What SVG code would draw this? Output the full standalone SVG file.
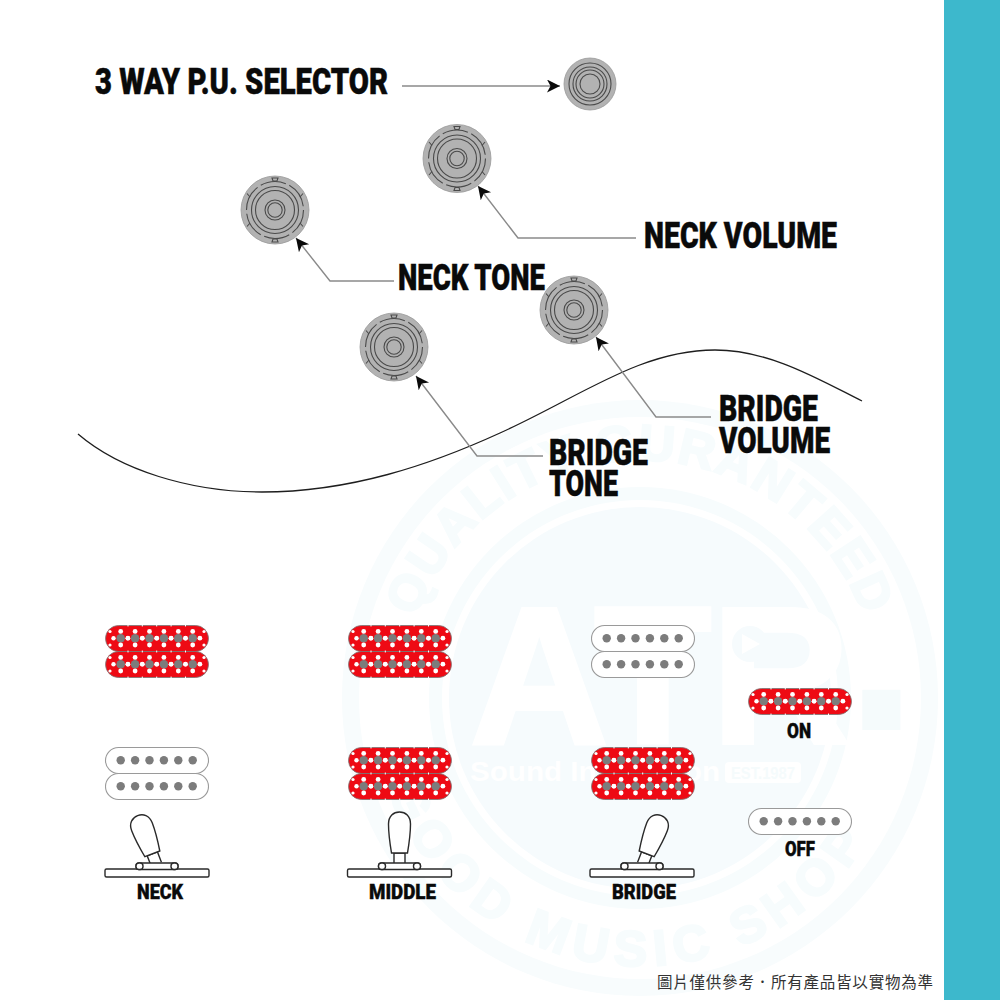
<svg xmlns="http://www.w3.org/2000/svg" width="1000" height="1000" viewBox="0 0 1000 1000">
<style>
.lbl{font-family:Roboto,"Liberation Sans",Arial,sans-serif;font-weight:900;fill:#0a0a0a;stroke:#0a0a0a;stroke-width:.5}
.big{font-size:36px}
.sm{font-size:21px;stroke-width:.4}
.ln{fill:none;stroke:#8a8a8a;stroke-width:1.4}
.wm{font-family:"Liberation Sans",Arial,sans-serif;font-weight:700}
.kn{fill:none;stroke:#4a4a4a;stroke-width:1.1}
.pl{fill:#fff;stroke:#2a2a2a;stroke-width:1.4}
.wh{fill:#fff;stroke:#9a9a9a;stroke-width:1.1}
.rd{fill:#ee0a14;stroke:#777;stroke-width:.8}
.pg{fill:#7c7c7c}
.wd{fill:#fff}
.rt{font-family:"Liberation Sans",Arial,sans-serif;font-weight:700;fill:#f7fcfd;stroke:#f7fcfd;stroke-width:2.5}
</style>
<defs>
<marker id="ah" markerUnits="userSpaceOnUse" markerWidth="16" markerHeight="14" refX="13" refY="6.500" orient="auto"><path d="M0 0L13 6.500L0 13L3.500 6.500Z" fill="#0a0a0a"/></marker>
<path id="arcT" d="M402 698A238 238 0 0 1 878 698"/>
<path id="arcB" d="M372 698A268 268 0 0 0 908 698"/>
<g id="knob">
<circle r="34" fill="#b2b2b2" stroke="#999" stroke-width=".8"/>
<circle class="kn" r="28.500" stroke-dasharray="26 3.800"/>
<circle class="kn" r="23.500"/>
<circle class="kn" r="19.500"/>
<circle class="kn" r="10"/>
<circle class="kn" r="7.200"/>
<path class="kn" d="M-3 -32L3 -32L2 -29H-2ZM-3 32L3 32L2 29H-2ZM-28 -16.500L-25 -13M28 -16.500L25 -13M-28 16.500L-25 13M28 16.500L25 13" stroke-width=".8"/>
</g>
<g id="cell"><circle class="pg" r="4.300"/><circle class="wd" cy="-6.800" r="2.400"/><circle class="wd" cy="6.800" r="2.400"/><circle class="wd" cx="7.200" r="2.400"/><circle class="wd" cx="-7.200" r="2.200"/></g>
<g id="redcoil">
<rect class="rd" x=".5" y=".5" width="103" height="26" rx="13"/>
<use href="#cell" x="15.700" y="13.200"/><use href="#cell" x="30.100" y="13.200"/><use href="#cell" x="44.500" y="13.200"/><use href="#cell" x="58.900" y="13.200"/><use href="#cell" x="73.300" y="13.200"/><use href="#cell" x="87.700" y="13.200"/>
<circle class="wd" cx="5" cy="6.500" r="1.600"/><circle class="wd" cx="5" cy="20" r="1.600"/><circle class="wd" cx="99" cy="6.500" r="1.600"/><circle class="wd" cx="99" cy="20" r="1.600"/>
<path d="M23 0v1.500M37.300 0v1.500M51.700 0v1.500M66.100 0v1.500M80.500 0v1.500M23 27v-1.500M37.300 27v-1.500M51.700 27v-1.500M66.100 27v-1.500M80.500 27v-1.500" stroke="#fff" stroke-width="1"/>
</g>
<g id="whitecoil">
<rect class="wh" x=".5" y=".5" width="103" height="26" rx="13"/>
<circle class="pg" cx="15.700" cy="13.200" r="4.200"/><circle class="pg" cx="30.100" cy="13.200" r="4.200"/><circle class="pg" cx="44.500" cy="13.200" r="4.200"/><circle class="pg" cx="58.900" cy="13.200" r="4.200"/><circle class="pg" cx="73.300" cy="13.200" r="4.200"/><circle class="pg" cx="87.700" cy="13.200" r="4.200"/>
</g>
<g id="lever">
<path class="pl" d="M-5.500 -2V-13H5.500V-2" stroke-width="1.200"/>
<path class="pl" d="M-8 -13C-10 -25 -11 -35 -11 -42C-11 -50 -6 -54 0 -54C6 -54 11 -50 11 -42C11 -35 10 -25 8 -13Z"/>
</g>
<g id="plate">
<rect class="pl" x="-52" y="3" width="104" height="8" rx="1.500"/>
<rect class="pl" x="-21" y="-3" width="42" height="6.500" rx="3"/>
<rect class="pl" x="-21" y="-3" width="7" height="6.500" rx="3"/>
<rect class="pl" x="14" y="-3" width="7" height="6.500" rx="3"/>
</g>
</defs>
<rect width="1000" height="1000" fill="#fff"/>
<g id="watermark">
<circle cx="640" cy="698" r="298" fill="#f8fcfd"/>
<circle cx="640" cy="698" r="281" fill="#fff"/>
<circle cx="640" cy="698" r="211" fill="#f7fcfd"/>
<circle cx="640" cy="698" r="198" fill="#fff"/>
<circle cx="640" cy="698" r="191" fill="#f6fbfd"/>
<text class="rt" font-size="50" letter-spacing="2" text-anchor="middle"><textPath href="#arcT" startOffset="50%">QUALITY GURANTEED</textPath></text>
<text class="rt" font-size="50" letter-spacing="8" text-anchor="middle"><textPath href="#arcB" startOffset="47%">GOOD MUSIC SHOP</textPath></text>
<text class="wm" x="470" y="743" font-size="195" fill="#fff" stroke="#fff" stroke-width="4" textLength="380" lengthAdjust="spacingAndGlyphs">ATR</text>
<text class="wm" x="844" y="730" font-size="270" fill="#f5fbfc">.</text>
<circle cx="750" cy="644" r="18" fill="#f6fbfd"/>
<path d="M742 634L760 644L742 654Z" fill="#fff"/>
<text class="wm" x="470" y="781" font-size="28" fill="#fff" textLength="250" lengthAdjust="spacingAndGlyphs">Sound Innovation</text>
<rect x="725" y="762" width="76" height="21" rx="4" fill="#fff"/>
<text class="wm" x="731" y="779" font-size="17" fill="#f5fbfc" textLength="64" lengthAdjust="spacingAndGlyphs">EST.1987</text>
</g>
<rect id="band" x="944" y="0" width="56" height="1000" fill="#3db8cc"/>
<path id="body-curve" d="M78 434C120 470 190 492 262 492C350 492 430 465 500 433C580 397 640 350 715 350C770 350 820 380 862 401" fill="none" stroke="#1e1e1e" stroke-width="1.300"/>
<g id="connectors">
<path class="ln" marker-end="url(#ah)" d="M402 86H560"/>
<path class="ln" marker-end="url(#ah)" d="M636 238H518L478 186"/>
<path class="ln" marker-end="url(#ah)" d="M394 281H330L296 238"/>
<path class="ln" marker-end="url(#ah)" d="M711 417H656L596 337"/>
<path class="ln" marker-end="url(#ah)" d="M543 456H477L416 376"/>
</g>
<g id="selector-knob" transform="translate(590 84)">
<circle r="26" fill="#b2b2b2" stroke="#999" stroke-width=".8"/>
<circle class="kn" r="21"/><circle class="kn" r="17"/><circle class="kn" r="14"/><circle class="kn" r="10"/>
</g>
<use id="neck-volume-knob" href="#knob" x="457" y="158.500"/>
<use id="neck-tone-knob" href="#knob" x="275" y="210"/>
<use id="bridge-volume-knob" href="#knob" x="574" y="310"/>
<use id="bridge-tone-knob" href="#knob" x="394" y="347"/>
<g id="labels">
<text class="lbl big" x="95" y="94" textLength="293" lengthAdjust="spacingAndGlyphs">3 WAY P.U. SELECTOR</text>
<text class="lbl big" x="644" y="248" textLength="193" lengthAdjust="spacingAndGlyphs">NECK VOLUME</text>
<text class="lbl big" x="398" y="290" textLength="147" lengthAdjust="spacingAndGlyphs">NECK TONE</text>
<text class="lbl big" x="719" y="421" textLength="99" lengthAdjust="spacingAndGlyphs">BRIDGE</text>
<text class="lbl big" x="719" y="453" textLength="111" lengthAdjust="spacingAndGlyphs">VOLUME</text>
<text class="lbl big" x="549" y="465" textLength="99" lengthAdjust="spacingAndGlyphs">BRIDGE</text>
<text class="lbl big" x="549" y="496" textLength="69" lengthAdjust="spacingAndGlyphs">TONE</text>
</g>
<g id="neck-pos">
<use href="#redcoil" x="105" y="625"/><use href="#redcoil" x="105" y="651"/>
<use href="#whitecoil" x="105" y="747"/><use href="#whitecoil" x="105" y="773"/>
<use href="#lever" transform="translate(157 866) rotate(-21)"/>
<use href="#plate" x="157" y="866"/>
<text class="lbl sm" x="137" y="899" textLength="46" lengthAdjust="spacingAndGlyphs">NECK</text>
</g>
<g id="middle-pos">
<use href="#redcoil" x="348" y="625"/><use href="#redcoil" x="348" y="651"/>
<use href="#redcoil" x="348" y="747"/><use href="#redcoil" x="348" y="773"/>
<use href="#lever" transform="translate(399.500 866)"/>
<use href="#plate" x="399.500" y="866"/>
<text class="lbl sm" x="369" y="899" textLength="67" lengthAdjust="spacingAndGlyphs">MIDDLE</text>
</g>
<g id="bridge-pos">
<use href="#whitecoil" x="591" y="625"/><use href="#whitecoil" x="591" y="651"/>
<use href="#redcoil" x="591" y="747"/><use href="#redcoil" x="591" y="773"/>
<use href="#lever" transform="translate(642 866) rotate(21)"/>
<use href="#plate" x="642" y="866"/>
<text class="lbl sm" x="612" y="899" textLength="64" lengthAdjust="spacingAndGlyphs">BRIDGE</text>
</g>
<g id="legend-on">
<use href="#redcoil" x="748" y="688"/>
<text class="lbl sm" x="787" y="738" textLength="24" lengthAdjust="spacingAndGlyphs">ON</text>
</g>
<g id="legend-off">
<use href="#whitecoil" x="748" y="808"/>
<text class="lbl sm" x="785" y="856" textLength="30" lengthAdjust="spacingAndGlyphs">OFF</text>
</g>
<text id="disclaimer" x="657" y="988" font-family="'Noto Sans CJK TC','Noto Sans',sans-serif" font-size="15.500" fill="#333" textLength="276">圖片僅供參考．所有產品皆以實物為準</text>
</svg>
